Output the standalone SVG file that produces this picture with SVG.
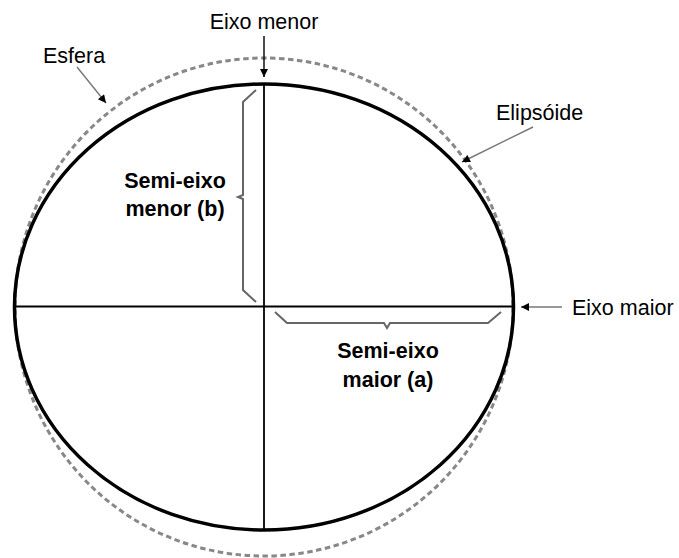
<svg xmlns="http://www.w3.org/2000/svg" width="679" height="558" viewBox="0 0 679 558">
<style>
.lbl{font-family:"Liberation Sans",Arial,sans-serif;font-size:21.5px;fill:#000}
.bold{font-family:"Liberation Sans",Arial,sans-serif;font-size:21.5px;font-weight:bold;fill:#000;text-anchor:middle}
.brace{fill:none;stroke:#666;stroke-width:2;stroke-linejoin:miter}
.ptr{stroke:#777;stroke-width:1.4;fill:none;marker-end:url(#ah)}
</style>
<defs>
<marker id="ah" viewBox="0 0 10 10" refX="10" refY="5" markerWidth="10" markerHeight="8" markerUnits="userSpaceOnUse" orient="auto">
<path d="M0,0 L10,5 L0,10 Z" fill="#000"/>
</marker>
</defs>
<rect width="679" height="558" fill="#fff"/>
<g id="esfera">
<circle cx="264" cy="307" r="249" fill="none" stroke="#888" stroke-width="3" stroke-dasharray="5.5,3.5"/>
</g>
<g id="elipsoide">
<ellipse cx="264" cy="307" rx="249.5" ry="223" fill="none" stroke="#000" stroke-width="3.5"/>
</g>
<g id="eixos">
<line x1="264" y1="84" x2="264" y2="530" stroke="#000" stroke-width="1.8"/>
<line x1="14.5" y1="306.5" x2="513.5" y2="306.5" stroke="#000" stroke-width="1.8"/>
</g>
<g id="chaves">
<path class="brace" d="M256,90 L243,102 L243,195 L238,197 L243,199 L243,290 L256,302"/>
<path class="brace" d="M275,312 L287,323 L384,323 L387,328 L390,323 L488,323 L501,312"/>
</g>
<g id="conectores">
<line x1="264" y1="36" x2="264" y2="77" stroke="#000" stroke-width="1.4" marker-end="url(#ah)"/>
<line class="ptr" x1="77" y1="67" x2="106" y2="103"/>
<line class="ptr" x1="533" y1="127" x2="462" y2="162"/>
<line class="ptr" x1="562" y1="307" x2="521" y2="307"/>
</g>
<g id="rotulos">
<text class="lbl" x="264" y="29" text-anchor="middle">Eixo menor</text>
<text class="lbl" x="43" y="63">Esfera</text>
<text class="lbl" x="496" y="120">Elipsóide</text>
<text class="lbl" x="572" y="315">Eixo maior</text>
<text class="bold" x="175" y="188">Semi-eixo</text>
<text class="bold" x="175" y="216">menor (b)</text>
<text class="bold" x="388" y="358">Semi-eixo</text>
<text class="bold" x="388" y="387">maior (a)</text>
</g>
</svg>
